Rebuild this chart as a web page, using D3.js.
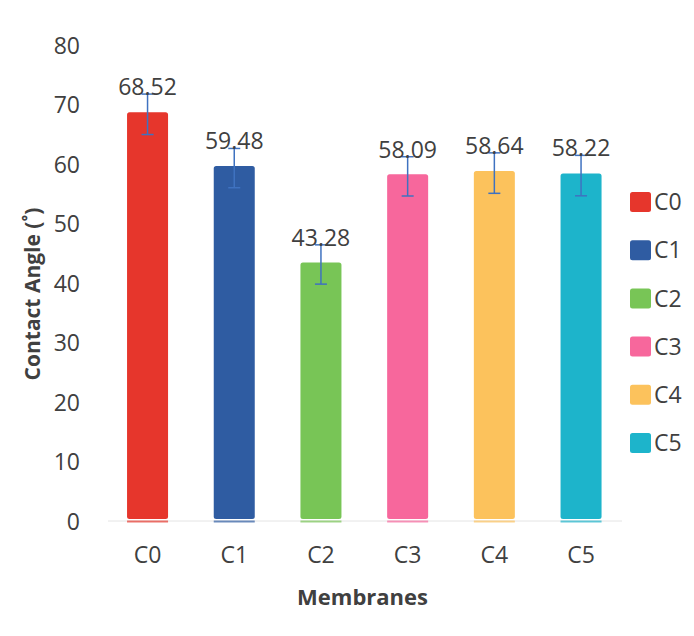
<!DOCTYPE html>
<html>
<head>
<meta charset="utf-8">
<script src="https://cdn.jsdelivr.net/npm/d3@7"></script>
<style>
  html, body { margin: 0; padding: 0; background: #fff; }
  svg { display: block; font-family: "Open Sans", "DejaVu Sans", sans-serif; }
</style>
</head>
<body>
<svg id="chart" width="694" height="636"></svg>
<script>
const categories = ["C0", "C1", "C2", "C3", "C4", "C5"];
const values = [68.52, 59.48, 43.28, 58.09, 58.64, 58.22];
const errors = [3.4, 3.3, 3.3, 3.3, 3.4, 3.4];
const colors = ["#e6362c", "#2f5ca2", "#78c556", "#f7679c", "#fcc25c", "#1db4cb"];
const yTicks = [0, 10, 20, 30, 40, 50, 60, 70, 80];
const yTitle = "Contact Angle (˚)";
const xTitle = "Membranes";

const svg = d3.select("#chart");
const textColor = "#404040";

const x = d3.scaleBand().domain(categories).range([104.2, 624.4])
  .paddingInner(0.527).paddingOuter(0.2635);
const y = d3.scaleLinear().domain([0, 80]).range([521, 45]);

// baseline
svg.append("line")
  .attr("x1", 108).attr("x2", 622)
  .attr("y1", y(0)).attr("y2", y(0))
  .attr("stroke", "#e4e4e4").attr("stroke-width", 1);

// y axis labels
const yAxis = d3.axisLeft(y).tickValues(yTicks).tickSize(0).tickPadding(0);
const gy = svg.append("g").attr("transform", "translate(80,0)").call(yAxis);
gy.select(".domain").remove();
gy.selectAll("text")
  .attr("font-size", 23).attr("fill", textColor)
  .attr("font-family", "'Open Sans', sans-serif")
  .attr("dy", "0.35em");

// x axis labels
const xAxis = d3.axisBottom(x).tickSize(0).tickPadding(0);
const gx = svg.append("g").attr("transform", "translate(0,546)").call(xAxis);
gx.select(".domain").remove();
gx.selectAll("text")
  .attr("font-size", 23).attr("fill", textColor)
  .attr("font-family", "'Open Sans', sans-serif")
  .attr("dy", "0.72em");

// bars
const data = categories.map((c, i) => ({ c, v: values[i], e: errors[i], col: colors[i] }));
const bars = svg.append("g");
bars.selectAll("rect.bar").data(data).join("rect")
  .attr("class", "bar")
  .attr("x", d => x(d.c))
  .attr("y", d => y(d.v) - 1)
  .attr("width", x.bandwidth())
  .attr("height", d => y(0) - y(d.v) - 1)
  .attr("rx", 2.5)
  .attr("fill", d => d.col);
// thin base strip under each bar
bars.selectAll("rect.base").data(data).join("rect")
  .attr("class", "base")
  .attr("x", d => x(d.c))
  .attr("y", y(0) - 0.5)
  .attr("width", x.bandwidth())
  .attr("height", 2)
  .attr("fill", d => d.col)
  .attr("opacity", 0.7);

// error bars
const eb = svg.append("g").attr("stroke", "#3f72c0").attr("stroke-width", 1.5);
data.forEach(d => {
  const cx = x(d.c) + x.bandwidth() / 2;
  const top = y(d.v + d.e) + 1, bot = y(d.v - d.e) + 1;
  eb.append("line").attr("x1", cx).attr("x2", cx).attr("y1", top).attr("y2", bot);
  eb.append("line").attr("x1", cx - 6).attr("x2", cx + 6).attr("y1", top).attr("y2", top);
  eb.append("line").attr("x1", cx - 6).attr("x2", cx + 6).attr("y1", bot).attr("y2", bot);
});

// value labels
svg.append("g").selectAll("text").data(data).join("text")
  .attr("x", d => x(d.c) + x.bandwidth() / 2)
  .attr("y", d => y(d.v + d.e) + 2)
  .attr("text-anchor", "middle")
  .attr("font-size", 23).attr("fill", textColor)
  .text(d => d.v.toFixed(2));

// legend
const lg = svg.append("g").attr("transform", "translate(630,0)");
data.forEach((d, i) => {
  const cy = 202 + i * 48.2;
  lg.append("rect").attr("x", 0).attr("y", cy - 10).attr("width", 21).attr("height", 20)
    .attr("rx", 2.5).attr("fill", d.col);
  lg.append("text").attr("x", 24).attr("y", cy).attr("dy", "0.36em")
    .attr("font-size", 23).attr("fill", textColor).text(d.c);
});

// axis titles
svg.append("text")
  .attr("transform", "translate(40,294) rotate(-90)")
  .attr("text-anchor", "middle")
  .attr("font-size", 21).attr("font-weight", "bold").attr("fill", textColor)
  .text(yTitle);
svg.append("text")
  .attr("x", 362.5).attr("y", 605)
  .attr("text-anchor", "middle")
  .attr("font-size", 22).attr("font-weight", "bold").attr("fill", textColor)
  .text(xTitle);
</script>
</body>
</html>
